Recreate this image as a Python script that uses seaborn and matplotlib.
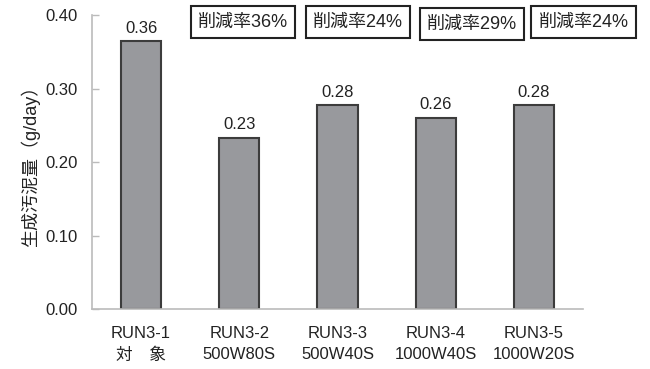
import matplotlib
matplotlib.use("Agg")
import matplotlib.pyplot as plt
import seaborn as sns
import pandas as pd

# ================= DATA =================
runs = ["RUN3-1\n対　象", "RUN3-2\n500W80S", "RUN3-3\n500W40S",
        "RUN3-4\n1000W40S", "RUN3-5\n1000W20S"]
sludge = [0.364, 0.233, 0.277, 0.260, 0.277]
reduction = ["削減率36%", "削減率24%", "削減率29%", "削減率24%"]
y_ticks = [0.0, 0.1, 0.2, 0.3, 0.4]

df = pd.DataFrame({"run": runs, "sludge": sludge})

# ================= STYLE =================
sns.set_theme(style="white")
plt.rcParams["font.family"] = ["Liberation Sans", "Noto Sans CJK JP", "DejaVu Sans"]
TXT = "#222222"
SPINE = "#bbbbbb"

fig = plt.figure(figsize=(6.5, 3.69), dpi=100)
ax = fig.add_axes([0.1415, 0.1626, 0.7555, 0.7967])

sns.barplot(data=df, x="run", y="sludge", color="#98999d", saturation=1,
            edgecolor="#3c3c3c", linewidth=1.5, width=0.41, ax=ax)

ax.bar_label(ax.containers[0], labels=[f"{v:.2f}" for v in sludge],
             padding=4, fontsize=12, color=TXT)

# ================= AXES =================
ax.set_xlim(-0.5, 4.5)
ax.set_ylim(0, 0.4)
ax.set_yticks(y_ticks)
ax.set_yticklabels([f"{t:.2f}" for t in y_ticks], fontsize=12, color=TXT)
ax.set_xticks(range(len(runs)))
ax.set_xticklabels(runs, fontsize=12, color=TXT, linespacing=1.55)
ax.tick_params(axis="x", which="major", length=0, pad=12)
ax.set_xticks([0.5, 1.5, 2.5, 3.5, 4.5], minor=True)
ax.tick_params(axis="x", which="minor", direction="in", length=4,
               color=SPINE, width=1)
ax.tick_params(axis="y", direction="in", length=5, color=SPINE, width=1,
               left=True, pad=10)
ax.set_xlabel("")
ax.set_ylabel("生成汚泥量（g/day）", fontsize=13, color=TXT, labelpad=4)

for side in ["top", "right"]:
    ax.spines[side].set_visible(False)
for side in ["left", "bottom"]:
    ax.spines[side].set_color(SPINE)
    ax.spines[side].set_linewidth(1.2)

# ================= REDUCTION BOXES =================
box_x = [0.374, 0.551, 0.726, 0.898]
box_y = [0.940, 0.940, 0.935, 0.940]
for txt, bx, by in zip(reduction, box_x, box_y):
    fig.text(bx, by, txt, ha="center", va="center", fontsize=13, color=TXT,
             bbox=dict(boxstyle="square,pad=0.4", fc="white",
                       ec="#222222", lw=1.5))

fig.savefig("out.png", dpi=100)
